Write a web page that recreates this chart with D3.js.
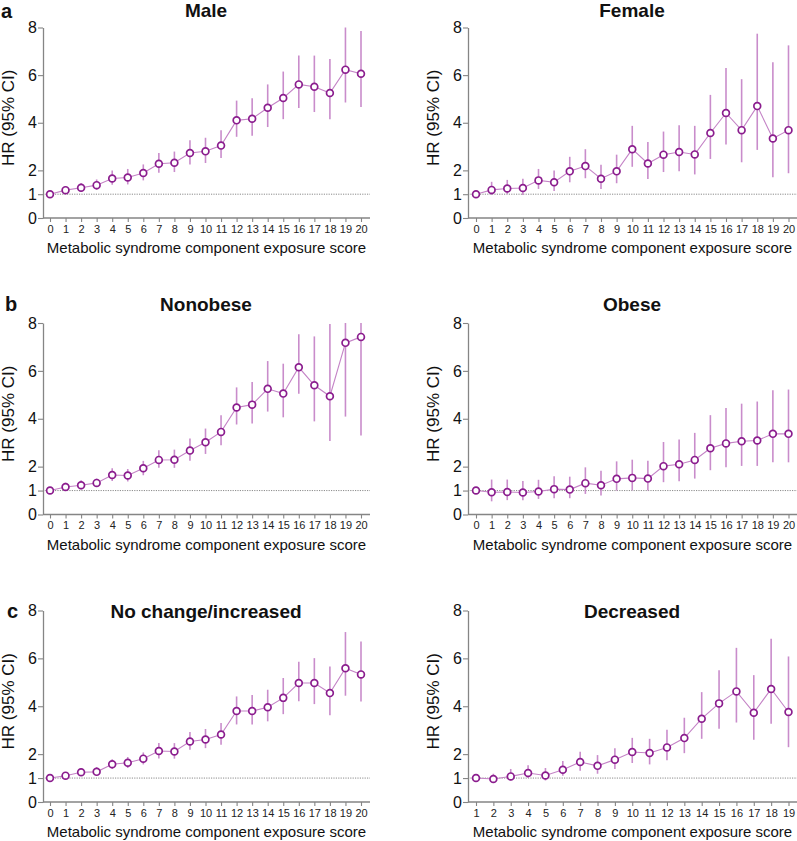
<!DOCTYPE html>
<html>
<head>
<meta charset="utf-8">
<script src="https://cdn.jsdelivr.net/npm/d3@7"></script>
<style>
  html, body { margin: 0; padding: 0; background: #fff; }
  svg { display: block; font-family: "Liberation Sans", Arial, sans-serif; }
</style>
</head>
<body>
<svg id="chart" width="797" height="841"></svg>
<script>
// ---------- Data ----------
const scores0to20 = d3.range(0, 21);
const scores1to19 = d3.range(1, 20);
const yTickValues = [0, 1, 2, 4, 6, 8];
const xAxisTitle = "Metabolic syndrome component exposure score";
const yAxisTitle = "HR (95% CI)";

const maleHR = [1.0, 1.17, 1.27, 1.38, 1.66, 1.70, 1.89, 2.28, 2.32, 2.73, 2.80, 3.04, 4.10, 4.17, 4.63, 5.04, 5.61, 5.51, 5.25, 6.23, 6.06];
const maleLo = [null, 1.05, 1.10, 1.18, 1.40, 1.41, 1.58, 1.90, 1.93, 2.25, 2.31, 2.52, 3.41, 3.45, 3.82, 4.15, 4.62, 4.45, 4.15, 4.85, 4.66];
const maleHi = [null, 1.32, 1.47, 1.62, 2.00, 2.06, 2.25, 2.73, 2.79, 3.27, 3.37, 3.69, 4.93, 5.03, 5.61, 6.15, 6.82, 6.82, 6.68, 8.00, 7.85];

const femaleHR = [1.0, 1.18, 1.24, 1.26, 1.58, 1.50, 1.96, 2.18, 1.65, 1.96, 2.89, 2.29, 2.66, 2.77, 2.67, 3.57, 4.41, 3.69, 4.70, 3.34, 3.69];
const femaleLo = [null, 0.97, 1.01, 0.97, 1.22, 1.13, 1.50, 1.67, 1.22, 1.46, 2.15, 1.64, 1.93, 1.96, 1.83, 2.48, 3.09, 2.34, 2.86, 1.71, 1.88];
const femaleHi = [null, 1.52, 1.60, 1.65, 2.06, 1.99, 2.57, 2.89, 2.24, 2.66, 3.87, 3.19, 3.63, 3.90, 3.87, 5.17, 6.30, 5.83, 7.74, 6.54, 7.25];

const nonobeseHR = [1.0, 1.15, 1.22, 1.32, 1.65, 1.63, 1.93, 2.28, 2.29, 2.67, 3.02, 3.45, 4.47, 4.59, 5.25, 5.05, 6.15, 5.40, 4.94, 7.17, 7.42];
const nonobeseLo = [null, 1.00, 1.04, 1.15, 1.40, 1.38, 1.64, 1.95, 1.95, 2.25, 2.53, 2.89, 3.76, 3.80, 4.30, 4.06, 5.04, 3.89, 3.07, 4.09, 3.30];
const nonobeseHi = [null, 1.33, 1.43, 1.50, 1.93, 1.90, 2.24, 2.68, 2.71, 3.17, 3.59, 4.15, 5.31, 5.54, 6.41, 6.30, 7.53, 7.44, 7.96, 8.00, 8.00];

const obeseHR = [1.0, 0.93, 0.94, 0.92, 0.96, 1.06, 1.04, 1.31, 1.22, 1.49, 1.53, 1.50, 2.02, 2.10, 2.28, 2.77, 2.97, 3.06, 3.09, 3.37, 3.37];
const obeseLo = [null, 0.55, 0.60, 0.60, 0.65, 0.68, 0.68, 0.86, 0.79, 1.00, 1.01, 1.00, 1.35, 1.39, 1.50, 1.85, 1.97, 2.03, 2.03, 2.18, 2.18];
const obeseHi = [null, 1.46, 1.46, 1.40, 1.45, 1.60, 1.58, 1.97, 1.83, 2.22, 2.29, 2.25, 3.03, 3.13, 3.41, 4.15, 4.45, 4.63, 4.72, 5.19, 5.22];

const noChangeHR = [1.0, 1.10, 1.24, 1.26, 1.58, 1.64, 1.81, 2.13, 2.11, 2.53, 2.61, 2.82, 3.80, 3.80, 3.96, 4.35, 4.97, 4.97, 4.55, 5.59, 5.33];
const noChangeLo = [null, 1.00, 1.10, 1.11, 1.38, 1.42, 1.57, 1.82, 1.81, 2.18, 2.25, 2.39, 3.24, 3.24, 3.37, 3.67, 4.21, 4.09, 3.62, 4.44, 4.20];
const noChangeHi = [null, 1.21, 1.42, 1.46, 1.79, 1.88, 2.07, 2.46, 2.46, 2.92, 3.05, 3.30, 4.41, 4.47, 4.69, 5.18, 5.86, 6.01, 5.66, 7.10, 6.71];

const decreasedHR = [1.0, 0.96, 1.07, 1.21, 1.11, 1.35, 1.67, 1.51, 1.77, 2.09, 2.05, 2.28, 2.67, 3.48, 4.12, 4.62, 3.73, 4.72, 3.76];
const decreasedLo = [null, 0.82, 0.90, 1.00, 0.90, 1.10, 1.31, 1.18, 1.38, 1.63, 1.57, 1.74, 2.04, 2.64, 3.06, 3.32, 2.60, 3.27, 2.29];
const decreasedHi = [null, 1.18, 1.38, 1.54, 1.42, 1.71, 2.10, 1.96, 2.25, 2.68, 2.64, 3.02, 3.52, 4.59, 5.50, 6.44, 5.30, 6.82, 6.08];

// ---------- Layout ----------
const panels = [
  { letter: "a", title: "Male",               scores: scores0to20, hr: maleHR,      lo: maleLo,      hi: maleHi,      col: 0, row: 0 },
  { letter: null, title: "Female",            scores: scores0to20, hr: femaleHR,    lo: femaleLo,    hi: femaleHi,    col: 1, row: 0 },
  { letter: "b", title: "Nonobese",           scores: scores0to20, hr: nonobeseHR,  lo: nonobeseLo,  hi: nonobeseHi,  col: 0, row: 1 },
  { letter: null, title: "Obese",             scores: scores0to20, hr: obeseHR,     lo: obeseLo,     hi: obeseHi,     col: 1, row: 1 },
  { letter: "c", title: "No change/increased",scores: scores0to20, hr: noChangeHR,  lo: noChangeLo,  hi: noChangeHi,  col: 0, row: 2 },
  { letter: null, title: "Decreased",         scores: scores1to19, hr: decreasedHR, lo: decreasedLo, hi: decreasedHi, col: 1, row: 2 }
];

const cols = [
  { axisX: 43,  xStart: 50,  xEnd: 361,   axisEnd: 370, titleX: 206 },
  { axisX: 468, xStart: 476, xEnd: 788.5, axisEnd: 797, titleX: 632 }
];
const rows = [
  { y0: 218,   y8: 27.5,  titleY: 17,    letterY: 18 },
  { y0: 514.5, y8: 323,   titleY: 310.7, letterY: 310.7 },
  { y0: 802,   y8: 610.5, titleY: 618.3, letterY: 618.3 }
];
const letterX = [1, 5, 7];

const markerColor = "#8b1d8e";
const lineColor = "#c483c6";
const barColor = "#c98ccb";
const axisColor = "#858585";
const FONT = "'Liberation Sans', Arial, sans-serif";

const svg = d3.select("#chart");

panels.forEach(p => {
  const c = cols[p.col], r = rows[p.row];
  const g = svg.append("g");
  const x = d3.scaleLinear().domain([p.scores[0], p.scores[p.scores.length - 1]]).range([c.xStart, c.xEnd]);
  const y = d3.scaleLinear().domain([0, 8]).range([r.y0, r.y8]);

  // reference dotted line at HR = 1
  g.append("line")
    .attr("x1", c.axisX).attr("x2", c.axisEnd)
    .attr("y1", y(1)).attr("y2", y(1))
    .attr("stroke", "#8a8a8a").attr("stroke-width", 1)
    .attr("stroke-dasharray", "1.2,1.2");

  // y axis
  const ya = g.append("g")
    .attr("transform", `translate(${c.axisX},0)`)
    .call(d3.axisLeft(y).tickValues(yTickValues).tickSize(5).tickSizeOuter(0).tickPadding(1).tickFormat(d3.format("d")));
  ya.attr("font-size", null).attr("font-family", null);
  ya.select(".domain").attr("stroke", axisColor).attr("stroke-width", 1.3);
  ya.selectAll(".tick line").attr("stroke", axisColor).attr("stroke-width", 1.1);
  ya.selectAll(".tick text").style("font-size", "16px").style("font-family", FONT).attr("fill", "#111");

  // x axis
  const xa = g.append("g")
    .attr("transform", `translate(0,${r.y0})`)
    .call(d3.axisBottom(x).tickValues(p.scores).tickSize(4).tickSizeOuter(0).tickPadding(3).tickFormat(d3.format("d")));
  xa.attr("font-size", null).attr("font-family", null);
  xa.select(".domain").remove();
  xa.append("line").attr("x1", c.axisX).attr("x2", c.axisEnd).attr("y1", 0).attr("y2", 0)
    .attr("stroke", axisColor).attr("stroke-width", 1.3);
  xa.selectAll(".tick line").attr("stroke", axisColor).attr("stroke-width", 1.1);
  xa.selectAll(".tick text").style("font-size", "11px").style("font-family", FONT).attr("fill", "#222");

  // axis titles
  g.append("text")
    .attr("x", (c.axisX + c.axisEnd) / 2).attr("y", r.y0 + 35)
    .attr("text-anchor", "middle").style("font-size", "15px").attr("fill", "#111")
    .text(xAxisTitle);
  g.append("text")
    .attr("transform", `translate(${c.axisX - 29},${(r.y0 + r.y8) / 2 - 5}) rotate(-90)`)
    .attr("text-anchor", "middle").style("font-size", "17px").attr("fill", "#111")
    .text(yAxisTitle);

  // panel title
  g.append("text")
    .attr("x", c.titleX).attr("y", r.titleY)
    .attr("text-anchor", "middle").style("font-size", "19px").attr("font-weight", "bold").attr("fill", "#111")
    .text(p.title);
  if (p.letter) {
    g.append("text")
      .attr("x", letterX[p.row]).attr("y", r.letterY)
      .style("font-size", "20px").attr("font-weight", "bold").attr("fill", "#111")
      .text(p.letter);
  }

  const pts = p.scores.map((s, i) => ({ s, hr: p.hr[i], lo: p.lo[i], hi: p.hi[i] }));

  // error bars
  g.selectAll("line.ci").data(pts.filter(d => d.lo !== null)).enter()
    .append("line").attr("class", "ci")
    .attr("x1", d => x(d.s)).attr("x2", d => x(d.s))
    .attr("y1", d => y(d.lo)).attr("y2", d => y(d.hi))
    .attr("stroke", barColor).attr("stroke-width", 1.6);

  // connecting line
  g.append("path")
    .datum(pts)
    .attr("d", d3.line().x(d => x(d.s)).y(d => y(d.hr)))
    .attr("fill", "none").attr("stroke", lineColor).attr("stroke-width", 1.1);

  // markers
  g.selectAll("circle").data(pts).enter()
    .append("circle")
    .attr("cx", d => x(d.s)).attr("cy", d => y(d.hr)).attr("r", 3.4)
    .attr("fill", "#fff").attr("stroke", markerColor).attr("stroke-width", 1.7);
});
</script>
</body>
</html>
